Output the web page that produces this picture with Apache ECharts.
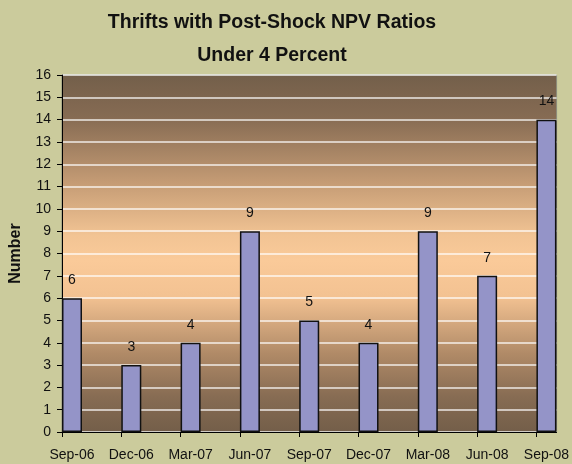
<!DOCTYPE html>
<html>
<head>
<meta charset="utf-8">
<script src="https://cdn.jsdelivr.net/npm/echarts@6/dist/echarts.min.js"></script>
<style>
  html, body { margin: 0; padding: 0; background: #CBCB9C; }
  #main { width: 572px; height: 464px; }
</style>
</head>
<body>
<div id="main"></div>
<script>
// quarters on the x axis
var categories = ['Sep-06', 'Dec-06', 'Mar-07', 'Jun-07', 'Sep-07', 'Dec-07', 'Mar-08', 'Jun-08', 'Sep-08'];
// number of thrifts
var counts = [6, 3, 4, 9, 5, 4, 9, 7, 14];
var yTicks = [0, 16, 1];

var myChart = echarts.init(document.getElementById('main'));

var barData = counts.map(function (v, i) { return [i, v]; });
var blankData = counts.map(function (v, i) { return [i, '-']; });
var tickIdx = categories.map(function (c, i) { return i; });
var font = 'Liberation Sans, Arial, sans-serif';

var option = {
    backgroundColor: '#CBCB9C',
    animation: false,
    title: {
        text: 'Thrifts with Post-Shock NPV Ratios\nUnder 4 Percent',
        left: 267,
        textAlign: 'center',
        top: 1,
        textStyle: {
            fontFamily: font,
            fontSize: 19.5,
            fontWeight: 'bold',
            color: '#111',
            lineHeight: 33
        }
    },
    grid: {
        left: 62,
        right: 15,
        top: 75,
        bottom: 32,
        show: true,
        borderColor: '#8a8a7a',
        borderWidth: 1,
        backgroundColor: {
            type: 'linear', x: 0, y: 0, x2: 0, y2: 1,
            colorStops: [
                {offset: 0, color: '#735F4A'},
                {offset: 0.12, color: '#866B53'},
                {offset: 0.3, color: '#C49B74'},
                {offset: 0.45, color: '#F2C494'},
                {offset: 0.52, color: '#FACA99'},
                {offset: 0.62, color: '#F3C292'},
                {offset: 0.78, color: '#B08A67'},
                {offset: 0.9, color: '#876C53'},
                {offset: 1, color: '#735E49'}
            ]
        }
    },
    xAxis: {
        type: 'value',
        min: 0,
        max: 8.34,
        interval: 1,
        splitLine: {show: false},
        axisLine: {show: true, onZero: false, lineStyle: {color: '#000', width: 1}},
        axisTick: {show: true, length: 5, customValues: tickIdx, lineStyle: {color: '#000'}},
        axisLabel: {
            customValues: tickIdx,
            margin: 16,
            color: '#111',
            fontSize: 14,
            fontFamily: font,
            formatter: function (v) {
                var c = categories[Math.round(v)];
                return c ? '{a|' + c + '}' : '';
            },
            rich: {
                a: {padding: [0, 0, 0, 20], fontSize: 14, color: '#111', fontFamily: font}
            }
        }
    },
    yAxis: {
        type: 'value',
        min: yTicks[0],
        max: yTicks[1],
        interval: yTicks[2],
        name: 'Number',
        nameLocation: 'middle',
        nameGap: 38,
        nameRotate: 90,
        nameTextStyle: {
            fontFamily: font,
            fontSize: 16,
            fontWeight: 'bold',
            color: '#111'
        },
        axisLine: {show: true, lineStyle: {color: '#000', width: 1}},
        axisTick: {show: true, length: 5, lineStyle: {color: '#000'}},
        axisLabel: {
            color: '#111',
            fontSize: 14,
            margin: 11,
            fontFamily: font
        },
        splitLine: {lineStyle: {color: 'rgba(255,255,255,0.85)', width: 1.5}}
    },
    series: [
        {
            // spacer so the real bars sit to the right of each tick
            type: 'bar',
            barWidth: 20,
            barGap: '0%',
            data: blankData,
            silent: true
        },
        {
            name: 'Number',
            type: 'bar',
            barWidth: 20,
            barGap: '0%',
            clip: false,
            data: barData,
            itemStyle: {color: '#9494C8', borderColor: '#111', borderWidth: 1.5},
            label: {
                show: true,
                position: 'top',
                distance: 11,
                color: '#111',
                fontSize: 14,
                fontFamily: font,
                formatter: function (p) { return p.value[1]; }
            }
        }
    ]
};
myChart.setOption(option);
</script>
</body>
</html>
